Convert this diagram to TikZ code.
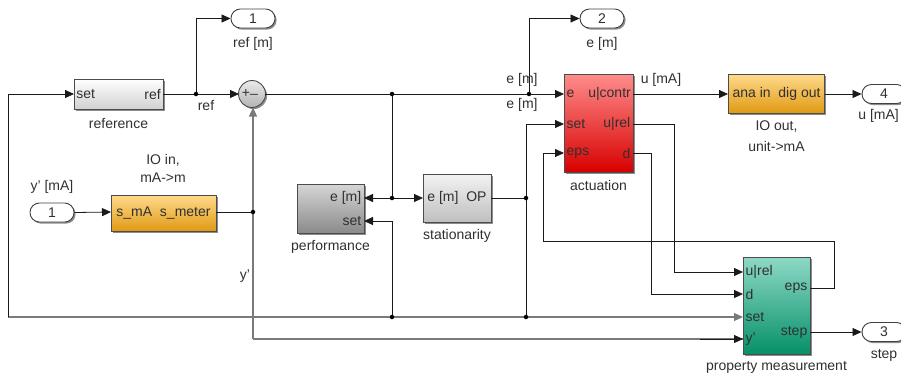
\documentclass[tikz,border=0pt]{standalone}
\usepackage{fontspec}
\setmainfont{Liberation Sans}
\usetikzlibrary{arrows.meta,shadows,positioning}
\definecolor{txt}{HTML}{303030}
\definecolor{wire}{HTML}{1A1A1A}
\definecolor{gwire}{HTML}{7A7A7A}
\definecolor{redtop}{HTML}{FF8C8C}
\definecolor{redbot}{HTML}{D80000}
\definecolor{ortop}{HTML}{FFDA8C}
\definecolor{orbot}{HTML}{E09A14}
\definecolor{teatop}{HTML}{8ED9C6}
\definecolor{teabot}{HTML}{069069}
\definecolor{grtop}{HTML}{D6D6D6}
\definecolor{grbot}{HTML}{8A8A8A}
\tikzset{
  x=1pt,y=-1pt,
  every node/.style={font=\fontsize{14}{16}\selectfont, text=txt},
  shd/.style={drop shadow={shadow xshift=1.6pt,shadow yshift=-1.6pt,opacity=0.45,fill=black}},
  blk/.style={draw=black!70, line width=0.9pt, rectangle, inner sep=0pt, shd},
  lightblk/.style={blk, top color=white, bottom color=black!18},
  darkblk/.style={blk, top color=grtop, bottom color=grbot},
  redblk/.style={blk, top color=redtop, bottom color=redbot},
  orangeblk/.style={blk, top color=ortop, bottom color=orbot},
  tealblk/.style={blk, top color=teatop, bottom color=teabot},
  port/.style={draw=black!75, line width=0.9pt, rounded corners=9.4pt, fill=white,
    minimum width=44pt, minimum height=19pt, inner sep=0pt, shd},
  lbl/.style={inner sep=1pt},
  wr/.style={draw=wire, line width=0.8pt},
  gwr/.style={draw=gwire, line width=1.1pt},
  ar/.style={-{Triangle[length=9pt,width=8pt]}},
  dot/.style={circle, fill=black, inner sep=0pt, minimum size=4.5pt},
}
\begin{document}
\begin{tikzpicture}
\useasboundingbox (0,0) rectangle (901,376);
\begin{scope}
\clip (0,0) rectangle (901,376);

% ---------- blocks ----------
\node[lightblk, minimum width=89pt, minimum height=30pt] (ref) at (118.5,94) {};
\node[anchor=west, inner sep=2.5pt] at (ref.west) {set};
\node[anchor=east, inner sep=2.5pt] at (ref.east) {ref};
\node[lbl] at (118.5,123) {reference};

\node[circle, draw=black!70, line width=0.9pt, top color=black!8, bottom color=black!30,
      minimum size=27pt, inner sep=0pt, shd] (sum) at (252,94) {};
\node[inner sep=0pt] at (246,93) {+};
\node[inner sep=0pt] at (254,94) {\_};

\node[port] (o1) at (253,18.5) {1};
\node[lbl] at (253,44) {ref [m]};
\node[port] (o2) at (602,18.5) {2};
\node[lbl] at (602,44) {e [m]};
\node[port] (o4) at (884,94) {4};
\node[lbl, anchor=east] at (900,116) {u [mA]};
\node[port] (o3) at (884,332) {3};
\node[lbl] at (884,355) {step};
\node[port] (i1) at (52,212.5) {1};
\node[lbl] at (52,187) {y' [mA]};

\node[orangeblk, minimum width=105pt, minimum height=36pt] (meter) at (163.5,213) {};
\node at (meter.center) {s\_mA\ \ s\_meter};
\node[lbl] at (163,160) {IO in,};
\node[lbl] at (163,178) {mA->m};

\node[darkblk, minimum width=67pt, minimum height=49pt] (perf) at (330.5,208.5) {};
\node[anchor=east, inner sep=2.5pt] at (364,198) {e [m]};
\node[anchor=east, inner sep=2.5pt] at (364,221) {set};
\node[lbl] at (330.5,247) {performance};

\node[lightblk, top color=black!5, bottom color=black!25, minimum width=68pt, minimum height=48pt] (stat) at (457,198) {};
\node at (stat.center) {e [m]\ \ OP};
\node[lbl] at (457,236) {stationarity};

\node[redblk, minimum width=69pt, minimum height=98pt] (act) at (598.5,123) {};
\node[anchor=west, inner sep=2.5pt] at (564,94) {e};
\node[anchor=east, inner sep=2pt] at (633,94) {u|contr};
\node[anchor=west, inner sep=2.5pt] at (564,124) {set};
\node[anchor=east, inner sep=2.5pt] at (633,124) {u|rel};
\node[anchor=west, inner sep=2.5pt] at (564,153) {eps};
\node[anchor=east, inner sep=2.5pt] at (633,153) {d};
\node[lbl] at (598.5,185) {actuation};

\node[orangeblk, minimum width=96pt, minimum height=39pt] (ioout) at (776.5,93.5) {};
\node at (ioout.center) {ana in\ \ dig out};
\node[lbl] at (776.5,127) {IO out,};
\node[lbl] at (776.5,146) {unit->mA};

\node[tealblk, minimum width=67pt, minimum height=97pt] (pm) at (776.5,305.5) {};
\node[anchor=west, inner sep=2.5pt] at (743,272) {u|rel};
\node[anchor=west, inner sep=2.5pt] at (743,294) {d};
\node[anchor=west, inner sep=2.5pt] at (743,317) {set};
\node[anchor=west, inner sep=2.5pt] at (743,339) {y'};
\node[anchor=east, inner sep=2.5pt] at (810,288) {eps};
\node[anchor=east, inner sep=2.5pt] at (810,332) {step};
\node[lbl] at (776.5,367) {property measurement};

% ---------- junctions ----------
\coordinate (jref) at (196,94);
\coordinate (je) at (529,94);
\coordinate (jp) at (392,94);
\coordinate (jst) at (392,198);
\coordinate (jop) at (526,198);
\coordinate (jset1) at (526,317);
\coordinate (jset2) at (392,317);
\coordinate (jy) at (253,212);

% ---------- wires ----------
\draw[wr,ar] (163,94) -- (239,94);
\draw[wr,ar] (jref) |- (o1.west);
\draw[wr,ar] (265,94) -- (564,94);
\draw[wr,ar] (je) |- (o2.west);
\draw[wr] (jp) -- (jst);
\draw[wr,ar] (jst) -- (364,198);
\draw[wr,ar] (jst) -- (423,198);
\draw[wr] (491,198) -- (jop);
\draw[wr,ar] (jop) |- (564,124);
\draw[wr] (jop) -- (jset1);
\draw[wr,ar] (543,241) |- (564,153);
\draw[wr] (810,288) -- (834,288) -- (834,241) -- (543,241);
\draw[wr,ar] (633,94) -- (728,94);
\draw[wr,ar] (825,94) -- (o4.west);
\draw[wr,ar] (633,124) -- (674,124) |- (743,272);
\draw[wr,ar] (633,153) -- (651,153) |- (743,294);
\draw[wr,ar] (810,332) -- (o3.west);
\draw[wr,ar] (i1.east) -- (111,212);
\draw[wr] (216,212) -- (jy);
\draw[gwr,ar] (jset1) -- (743,317);
\draw[gwr] (jset1) -- (8,317);
\draw[wr,ar] (8,317) -- (8,94) -- (74,94);
\draw[wr,ar] (jset2) |- (364,221);
\draw[gwr] (743,339) -- (253,339);
\draw[gwr,ar] (253,339) -- (253,107.5);
\draw[wr,-{Triangle[length=9pt,width=8pt]}] (700,339) -- (743,339);

\foreach \j in {jref,je,jp,jst,jop,jset1,jset2,jy} \node[dot] at (\j) {};

% ---------- wire labels ----------
\node[lbl] at (206,105) {ref};
\node[lbl] at (522,80) {e [m]};
\node[lbl] at (522,105) {e [m]};
\node[lbl] at (661,80) {u [mA]};
\node[lbl] at (245,276) {y'};
\end{scope}
\end{tikzpicture}
\end{document}
